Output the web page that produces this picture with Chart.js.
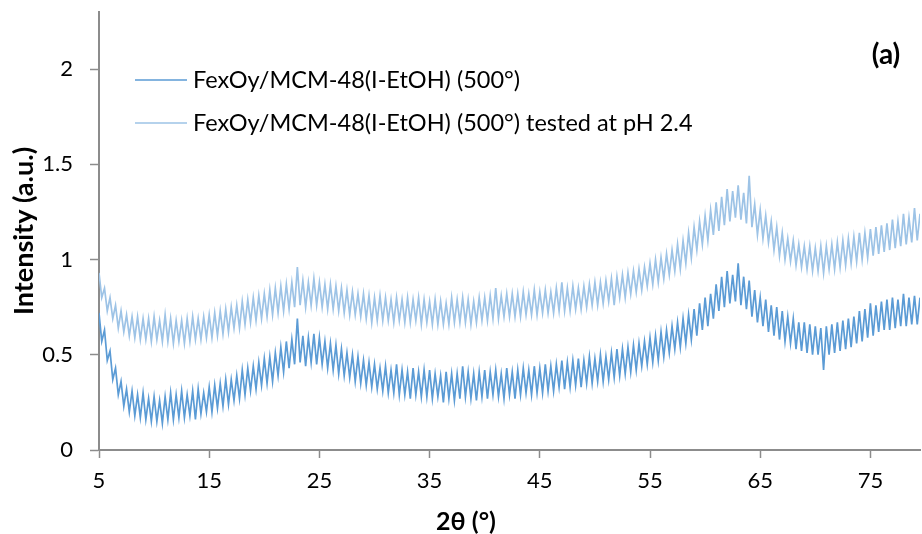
<!DOCTYPE html>
<html>
<head>
<meta charset="utf-8">
<script src="https://cdn.jsdelivr.net/npm/chart.js@4.4.1/dist/chart.umd.min.js"></script>
<style>
  body { margin: 0; background: #fff; }
  #myChart { display: block; }
</style>
</head>
<body>
<canvas id="myChart" width="922" height="534"></canvas>
<script>
// 2theta grid (degrees), read every 0.25 deg
var twoTheta = [
  5, 5.25, 5.5, 5.75, 6, 6.25, 6.5, 6.75, 7, 7.25,
  7.5, 7.75, 8, 8.25, 8.5, 8.75, 9, 9.25, 9.5, 9.75,
  10, 10.25, 10.5, 10.75, 11, 11.25, 11.5, 11.75, 12, 12.25,
  12.5, 12.75, 13, 13.25, 13.5, 13.75, 14, 14.25, 14.5, 14.75,
  15, 15.25, 15.5, 15.75, 16, 16.25, 16.5, 16.75, 17, 17.25,
  17.5, 17.75, 18, 18.25, 18.5, 18.75, 19, 19.25, 19.5, 19.75,
  20, 20.25, 20.5, 20.75, 21, 21.25, 21.5, 21.75, 22, 22.25,
  22.5, 22.75, 23, 23.25, 23.5, 23.75, 24, 24.25, 24.5, 24.75,
  25, 25.25, 25.5, 25.75, 26, 26.25, 26.5, 26.75, 27, 27.25,
  27.5, 27.75, 28, 28.25, 28.5, 28.75, 29, 29.25, 29.5, 29.75,
  30, 30.25, 30.5, 30.75, 31, 31.25, 31.5, 31.75, 32, 32.25,
  32.5, 32.75, 33, 33.25, 33.5, 33.75, 34, 34.25, 34.5, 34.75,
  35, 35.25, 35.5, 35.75, 36, 36.25, 36.5, 36.75, 37, 37.25,
  37.5, 37.75, 38, 38.25, 38.5, 38.75, 39, 39.25, 39.5, 39.75,
  40, 40.25, 40.5, 40.75, 41, 41.25, 41.5, 41.75, 42, 42.25,
  42.5, 42.75, 43, 43.25, 43.5, 43.75, 44, 44.25, 44.5, 44.75,
  45, 45.25, 45.5, 45.75, 46, 46.25, 46.5, 46.75, 47, 47.25,
  47.5, 47.75, 48, 48.25, 48.5, 48.75, 49, 49.25, 49.5, 49.75,
  50, 50.25, 50.5, 50.75, 51, 51.25, 51.5, 51.75, 52, 52.25,
  52.5, 52.75, 53, 53.25, 53.5, 53.75, 54, 54.25, 54.5, 54.75,
  55, 55.25, 55.5, 55.75, 56, 56.25, 56.5, 56.75, 57, 57.25,
  57.5, 57.75, 58, 58.25, 58.5, 58.75, 59, 59.25, 59.5, 59.75,
  60, 60.25, 60.5, 60.75, 61, 61.25, 61.5, 61.75, 62, 62.25,
  62.5, 62.75, 63, 63.25, 63.5, 63.75, 64, 64.25, 64.5, 64.75,
  65, 65.25, 65.5, 65.75, 66, 66.25, 66.5, 66.75, 67, 67.25,
  67.5, 67.75, 68, 68.25, 68.5, 68.75, 69, 69.25, 69.5, 69.75,
  70, 70.25, 70.5, 70.75, 71, 71.25, 71.5, 71.75, 72, 72.25,
  72.5, 72.75, 73, 73.25, 73.5, 73.75, 74, 74.25, 74.5, 74.75,
  75, 75.25, 75.5, 75.75, 76, 76.25, 76.5, 76.75, 77, 77.25,
  77.5, 77.75, 78, 78.25, 78.5, 78.75, 79, 79.25, 79.5, 79.75
];

// FexOy/MCM-48(I-EtOH) (500°)
var fresh = [
  0.72, 0.57, 0.63, 0.47, 0.52, 0.37, 0.43, 0.29, 0.36, 0.23,
  0.32, 0.20, 0.31, 0.18, 0.29, 0.17, 0.30, 0.16, 0.27, 0.15,
  0.28, 0.15, 0.26, 0.14, 0.28, 0.16, 0.30, 0.16, 0.29, 0.17,
  0.31, 0.17, 0.29, 0.18, 0.31, 0.16, 0.32, 0.19, 0.30, 0.20,
  0.33, 0.20, 0.34, 0.22, 0.35, 0.23, 0.37, 0.24, 0.37, 0.26,
  0.39, 0.27, 0.42, 0.29, 0.43, 0.31, 0.44, 0.32, 0.46, 0.34,
  0.48, 0.35, 0.49, 0.36, 0.51, 0.39, 0.54, 0.41, 0.57, 0.43,
  0.58, 0.45, 0.69, 0.46, 0.60, 0.44, 0.59, 0.46, 0.61, 0.45,
  0.59, 0.45, 0.57, 0.43, 0.56, 0.42, 0.55, 0.40, 0.53, 0.39,
  0.51, 0.38, 0.50, 0.36, 0.49, 0.35, 0.47, 0.34, 0.46, 0.33,
  0.45, 0.32, 0.43, 0.31, 0.44, 0.30, 0.42, 0.30, 0.45, 0.29,
  0.42, 0.29, 0.41, 0.27, 0.43, 0.29, 0.41, 0.28, 0.42, 0.28,
  0.42, 0.27, 0.40, 0.28, 0.39, 0.25, 0.41, 0.27, 0.40, 0.26,
  0.40, 0.27, 0.44, 0.28, 0.41, 0.27, 0.40, 0.26, 0.41, 0.28,
  0.42, 0.27, 0.41, 0.29, 0.42, 0.28, 0.40, 0.27, 0.43, 0.29,
  0.41, 0.27, 0.42, 0.29, 0.43, 0.30, 0.42, 0.29, 0.44, 0.30,
  0.43, 0.30, 0.45, 0.31, 0.44, 0.31, 0.45, 0.33, 0.47, 0.32,
  0.46, 0.33, 0.47, 0.34, 0.48, 0.33, 0.47, 0.35, 0.49, 0.35,
  0.48, 0.36, 0.50, 0.36, 0.49, 0.37, 0.51, 0.38, 0.53, 0.39,
  0.53, 0.40, 0.54, 0.41, 0.55, 0.42, 0.56, 0.44, 0.57, 0.45,
  0.59, 0.46, 0.60, 0.47, 0.62, 0.49, 0.63, 0.51, 0.65, 0.53,
  0.67, 0.54, 0.69, 0.56, 0.71, 0.58, 0.74, 0.60, 0.77, 0.63,
  0.80, 0.65, 0.82, 0.69, 0.87, 0.73, 0.91, 0.75, 0.94, 0.77,
  0.92, 0.78, 0.98, 0.76, 0.91, 0.74, 0.89, 0.70, 0.84, 0.67,
  0.80, 0.65, 0.79, 0.62, 0.76, 0.60, 0.75, 0.58, 0.73, 0.57,
  0.70, 0.56, 0.69, 0.53, 0.67, 0.52, 0.67, 0.51, 0.66, 0.50,
  0.65, 0.50, 0.64, 0.42, 0.65, 0.50, 0.66, 0.51, 0.67, 0.52,
  0.68, 0.53, 0.69, 0.54, 0.70, 0.56, 0.73, 0.57, 0.74, 0.59,
  0.77, 0.60, 0.76, 0.62, 0.78, 0.63, 0.79, 0.63, 0.80, 0.64,
  0.79, 0.65, 0.82, 0.65, 0.80, 0.66, 0.81, 0.66, 0.80, 0.67
];

// FexOy/MCM-48(I-EtOH) (500°) tested at pH 2.4
var tested = [
  0.93, 0.80, 0.85, 0.73, 0.80, 0.69, 0.76, 0.64, 0.73, 0.62,
  0.71, 0.60, 0.70, 0.59, 0.70, 0.58, 0.69, 0.58, 0.69, 0.57,
  0.70, 0.58, 0.68, 0.57, 0.71, 0.57, 0.69, 0.56, 0.68, 0.57,
  0.68, 0.56, 0.69, 0.57, 0.70, 0.58, 0.69, 0.58, 0.70, 0.59,
  0.71, 0.59, 0.72, 0.60, 0.73, 0.61, 0.74, 0.62, 0.75, 0.64,
  0.76, 0.64, 0.78, 0.66, 0.79, 0.67, 0.80, 0.68, 0.81, 0.69,
  0.82, 0.70, 0.84, 0.71, 0.85, 0.72, 0.86, 0.73, 0.87, 0.74,
  0.88, 0.75, 0.96, 0.76, 0.89, 0.75, 0.88, 0.76, 0.90, 0.76,
  0.88, 0.75, 0.87, 0.74, 0.87, 0.74, 0.86, 0.73, 0.85, 0.72,
  0.84, 0.71, 0.83, 0.71, 0.82, 0.70, 0.82, 0.69, 0.81, 0.67,
  0.80, 0.68, 0.81, 0.68, 0.80, 0.68, 0.79, 0.67, 0.80, 0.68,
  0.79, 0.67, 0.80, 0.67, 0.79, 0.68, 0.80, 0.66, 0.79, 0.67,
  0.78, 0.66, 0.79, 0.66, 0.78, 0.66, 0.77, 0.66, 0.80, 0.67,
  0.79, 0.67, 0.80, 0.67, 0.79, 0.66, 0.78, 0.67, 0.80, 0.68,
  0.80, 0.68, 0.81, 0.69, 0.85, 0.69, 0.81, 0.70, 0.82, 0.70,
  0.82, 0.70, 0.82, 0.70, 0.83, 0.71, 0.82, 0.71, 0.84, 0.71,
  0.83, 0.72, 0.84, 0.72, 0.83, 0.72, 0.85, 0.73, 0.88, 0.73,
  0.85, 0.73, 0.86, 0.74, 0.85, 0.74, 0.86, 0.75, 0.87, 0.76,
  0.88, 0.76, 0.88, 0.77, 0.89, 0.78, 0.90, 0.76, 0.91, 0.80,
  0.92, 0.80, 0.93, 0.82, 0.94, 0.83, 0.95, 0.84, 0.96, 0.86,
  0.98, 0.87, 1.00, 0.88, 1.01, 0.90, 1.03, 0.92, 1.05, 0.94,
  1.08, 0.95, 1.10, 0.98, 1.14, 1.01, 1.17, 1.05, 1.20, 1.08,
  1.23, 1.10, 1.26, 1.13, 1.30, 1.15, 1.33, 1.18, 1.37, 1.20,
  1.36, 1.22, 1.39, 1.21, 1.35, 1.19, 1.44, 1.17, 1.29, 1.13,
  1.26, 1.11, 1.23, 1.09, 1.20, 1.05, 1.17, 1.02, 1.14, 1.00,
  1.11, 0.99, 1.10, 0.97, 1.08, 0.96, 1.07, 0.95, 1.07, 0.94,
  1.06, 0.94, 1.07, 0.93, 1.07, 0.95, 1.08, 0.95, 1.09, 0.96,
  1.10, 0.97, 1.11, 0.98, 1.12, 0.99, 1.14, 1.00, 1.14, 1.01,
  1.16, 1.02, 1.17, 1.03, 1.18, 1.04, 1.19, 1.05, 1.21, 1.06,
  1.20, 1.07, 1.24, 1.08, 1.22, 1.09, 1.27, 1.10, 1.24, 1.11
];

var seriesNames = ["FexOy/MCM-48(I-EtOH) (500°)", "FexOy/MCM-48(I-EtOH) (500°) tested at pH 2.4"];
var seriesColors = ["#5B9BD5", "#9DC3E6"];
var xTicks = [5, 15, 25, 35, 45, 55, 65, 75];
var yTicks = [0, 0.5, 1, 1.5, 2];

var FONT = "Lato, 'Liberation Sans', sans-serif";
var AXIS = "#8c8c8c";

function toPoints(xs, ys) {
  return xs.map(function (x, i) { return { x: x, y: ys[i] }; });
}

// legend inside the plot, panel tag, x axis title
var extras = {
  id: "extras",
  afterDraw: function (chart) {
    var ctx = chart.ctx;
    ctx.save();
    ctx.textBaseline = "middle";
    ctx.textAlign = "left";
    ctx.font = "23.5px " + FONT;
    var rows = [80, 123];
    chart.data.datasets.forEach(function (ds, i) {
      ctx.strokeStyle = ds.borderColor;
      ctx.lineWidth = 1.5;
      ctx.beginPath();
      ctx.moveTo(135, rows[i]);
      ctx.lineTo(187, rows[i]);
      ctx.stroke();
      ctx.fillStyle = "#000";
      ctx.fillText(ds.label, 193, rows[i]);
    });
    ctx.font = "bold 28px " + FONT;
    ctx.textAlign = "center";
    ctx.fillText("(a)", 886, 55);
    ctx.font = "bold 25px " + FONT;
    ctx.fillText("2θ (°)", 466, 522);
    ctx.restore();
  }
};

var chart = new Chart("myChart", {
  type: "line",
  data: {
    datasets: [
      { label: seriesNames[0], data: toPoints(twoTheta, fresh), borderColor: seriesColors[0], borderWidth: 1.7, pointRadius: 0, tension: 0 },
      { label: seriesNames[1], data: toPoints(twoTheta, tested), borderColor: seriesColors[1], borderWidth: 1.7, pointRadius: 0, tension: 0 }
    ]
  },
  options: {
    responsive: false,
    animation: false,
    devicePixelRatio: 1,
    layout: { padding: { top: 12, right: 2, left: 0, bottom: 0 } },
    plugins: { legend: { display: false }, tooltip: { enabled: false } },
    scales: {
      x: {
        type: "linear",
        min: 5,
        max: 79.5,
        afterBuildTicks: function (s) { s.ticks = xTicks.map(function (v) { return { value: v }; }); },
        afterFit: function (s) { s.height = 84; s.paddingLeft = 0; s.paddingRight = 0; },
        grid: { display: true, drawOnChartArea: false, drawTicks: true, tickLength: 8, color: AXIS, tickWidth: 1.5 },
        border: { display: true, color: AXIS, width: 2 },
        ticks: { color: "#000", font: { family: FONT, size: 22 }, padding: 10, maxRotation: 0 },
        title: { display: false }
      },
      y: {
        min: 0,
        max: 2.3,
        afterBuildTicks: function (s) { s.ticks = yTicks.map(function (v) { return { value: v }; }); },
        afterFit: function (s) { s.width = 99; s.paddingTop = 0; s.paddingBottom = 0; },
        grid: { display: true, drawOnChartArea: false, drawTicks: true, tickLength: 9, color: AXIS, tickWidth: 1.5 },
        border: { display: true, color: AXIS, width: 2 },
        ticks: { color: "#000", font: { family: FONT, size: 22 }, padding: 17, callback: function (v) { return String(v); } },
        title: { display: true, text: "Intensity (a.u.)", color: "#000", font: { family: FONT, size: 27, weight: "bold" }, padding: { top: 8, bottom: 0 } }
      }
    }
  },
  plugins: [extras]
});
</script>
</body>
</html>
